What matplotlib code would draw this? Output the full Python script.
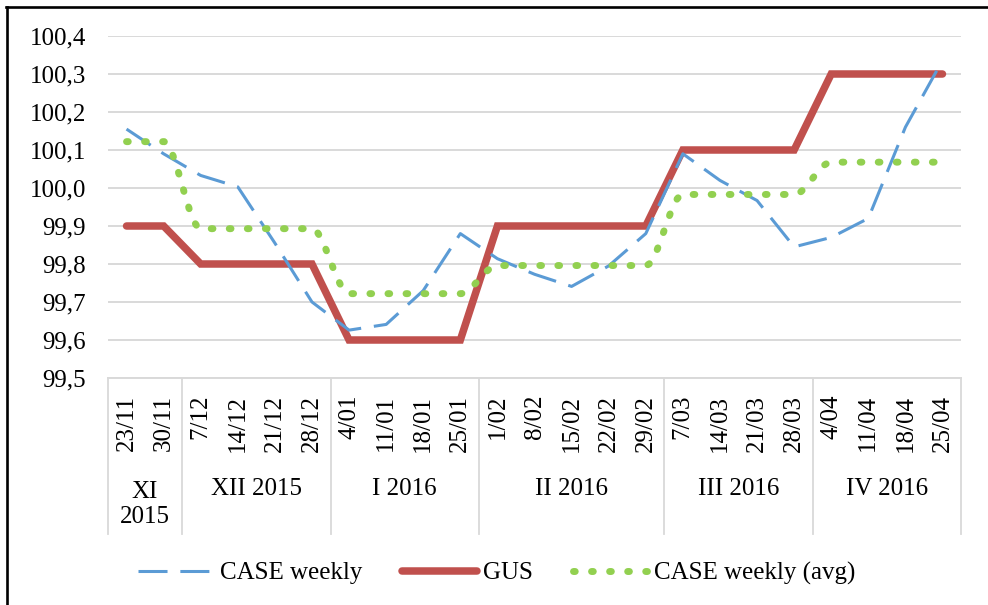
import matplotlib
matplotlib.use('Agg')
import matplotlib.pyplot as plt
import matplotlib.transforms as mtransforms
from matplotlib.path import Path
from matplotlib.patches import PathPatch
from matplotlib.lines import Line2D
import numpy as np

plt.rcParams['font.family'] = ['Liberation Serif', 'DejaVu Serif']

# ---------------- data ----------------
weeks = ['23/11', '30/11', '7/12', '14/12', '21/12', '28/12', '4/01', '11/01',
         '18/01', '25/01', '1/02', '8/02', '15/02', '22/02', '29/02', '7/03',
         '14/03', '21/03', '28/03', '4/04', '11/04', '18/04', '25/04']
months = ['XI\n2015', 'XII 2015', 'I 2016', 'II 2016', 'III 2016', 'IV 2016']
month_sizes = [2, 4, 4, 5, 4, 4]

case_weekly = [100.155, 100.09, 100.033, 100.003, 99.855, 99.70, 99.626, 99.641,
               99.73, 99.88, 99.814, 99.773, 99.741, 99.795, 99.88, 100.09,
               100.02, 99.967, 99.845, 99.87, 99.92, 100.16, 100.336]
gus = [99.9, 99.9, 99.8, 99.8, 99.8, 99.8, 99.6, 99.6, 99.6, 99.6, 99.9, 99.9,
       99.9, 99.9, 99.9, 100.1, 100.1, 100.1, 100.1, 100.3, 100.3, 100.3, 100.3]
case_avg = [100.122, 100.122, 99.893, 99.893, 99.893, 99.893, 99.722, 99.722,
            99.722, 99.722, 99.796, 99.796, 99.796, 99.796, 99.796, 99.983,
            99.983, 99.983, 99.983, 100.068, 100.068, 100.068, 100.068]

y_ticks = [99.5, 99.6, 99.7, 99.8, 99.9, 100.0, 100.1, 100.2, 100.3, 100.4]

# ---------------- styles ----------------
BLUE = '#5B9BD5'
RED = '#C0504D'
GREEN = '#92D050'
GRID = '#D9D9D9'
FS = 18
DOT_LW = 5.0
DOT_STYLE = (0, (0.25, 2.35))

fig = plt.figure(figsize=(9.88, 6.05), dpi=100)
ax = fig.add_axes([0.1093, 0.3752, 0.8634, 0.5653])

x = np.arange(len(weeks))
ax.set_xlim(-0.5, len(weeks) - 0.5)
ax.set_ylim(99.5, 100.4)
ax.set_yticks(y_ticks)
ax.set_yticklabels([f'{v:.1f}'.replace('.', ',') for v in y_ticks], fontsize=FS)
ax.grid(axis='y', color=GRID, lw=1.4)
ax.set_axisbelow(True)
for s in ['top', 'right', 'left']:
    ax.spines[s].set_visible(False)
ax.spines['bottom'].set_color(GRID)
ax.spines['bottom'].set_linewidth(1.4)
ax.tick_params(axis='y', length=0, pad=16)
ax.set_xticks(x)
ax.set_xticklabels(weeks, rotation=90, fontsize=FS, va='top', ha='center')
ax.tick_params(axis='x', length=0, pad=12)

# GUS (bottom)
ax.plot(x, gus, color=RED, lw=5.4, solid_capstyle='round',
        solid_joinstyle='miter', zorder=3)
# CASE weekly
ax.plot(x, case_weekly, color=BLUE, lw=2.2, linestyle=(0, (9.5, 4.2)),
        dash_capstyle='butt', zorder=4)

# CASE weekly (avg) - smoothed (monotone cubic rendering)
ya = np.array(case_avg, dtype=float)
d = np.diff(ya)
m = np.zeros_like(ya)
m[0], m[-1] = d[0], d[-1]
for k in range(1, len(ya) - 1):
    if d[k - 1] * d[k] > 0:
        m[k] = 2 * d[k - 1] * d[k] / (d[k - 1] + d[k])
verts = [(x[0], ya[0])]
codes = [Path.MOVETO]
for k in range(len(ya) - 1):
    verts += [(x[k] + 1 / 3, ya[k] + m[k] / 3),
              (x[k + 1] - 1 / 3, ya[k + 1] - m[k + 1] / 3),
              (x[k + 1], ya[k + 1])]
    codes += [Path.CURVE4] * 3
patch = PathPatch(Path(verts, codes), facecolor='none', edgecolor=GREEN,
                  lw=DOT_LW, linestyle=DOT_STYLE, capstyle='round', zorder=5)
ax.add_patch(patch)

# two-level category axis
trans = mtransforms.blended_transform_factory(ax.transData, ax.transAxes)
bounds = np.concatenate([[0], np.cumsum(month_sizes)]) - 0.5
for b in bounds:
    ax.add_line(Line2D([b, b], [0, -0.456], transform=trans, color=GRID,
                       lw=1.3, clip_on=False))
for i, lab in enumerate(months):
    cx = (bounds[i] + bounds[i + 1]) / 2
    yy = -0.37 if '\n' in lab else -0.3246
    ax.text(cx, yy, lab, transform=trans, ha='center', va='center',
            fontsize=FS, linespacing=1.2)

# legend
handles = [Line2D([], [], color=BLUE, lw=2.2, linestyle=(0, (9.5, 4.2))),
           Line2D([], [], color=RED, lw=5.4, solid_capstyle='round'),
           Line2D([], [], color=GREEN, lw=DOT_LW, linestyle=DOT_STYLE,
                  dash_capstyle='round')]
fig.legend(handles, ['CASE weekly', 'GUS', 'CASE weekly (avg)'],
           loc='center', bbox_to_anchor=(0.503, 0.0525), ncol=3,
           frameon=False, fontsize=FS, handlelength=3.0, handletextpad=0.25,
           columnspacing=1.6)

# outer frame (left and top only visible)
fig.add_artist(Line2D([0.0071, 0.0071], [0, 1 - 7 / 605], transform=fig.transFigure,
                      color='black', lw=1.9))
fig.add_artist(Line2D([0.0071 - 0.0009, 1], [1 - 7 / 605, 1 - 7 / 605],
                      transform=fig.transFigure, color='black', lw=1.9))

fig.savefig('out.png', dpi=100)
